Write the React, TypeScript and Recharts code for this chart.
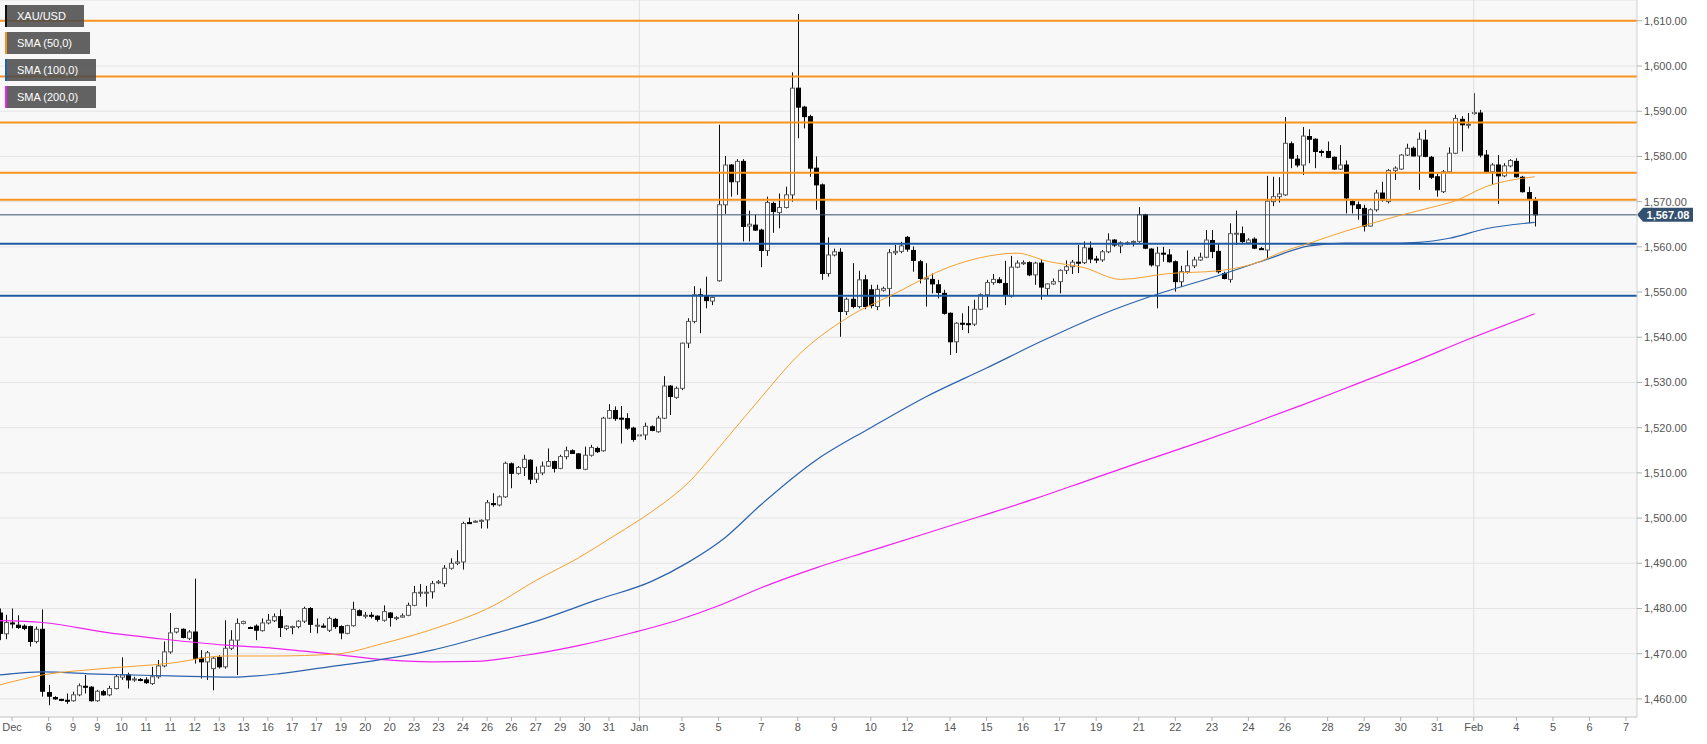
import React from 'react'
import { ComposedChart, Bar, Line, XAxis, YAxis, CartesianGrid, ReferenceLine } from 'recharts'

// 4h candles, open / high / low / close, first entry is index -1 (cut by left edge)
const FIRST_INDEX = -1
const candles: [number, number, number, number][] = [
  [1479.0, 1480.0, 1473.0, 1474.5],
  [1474.4, 1478.6, 1473.2, 1476.9], [1476.8, 1480.0, 1475.6, 1476.6], [1476.3, 1478.5, 1475.5, 1475.8],
  [1476.1, 1476.5, 1475.2, 1475.6], [1476.0, 1476.2, 1471.6, 1472.7], [1472.7, 1476.0, 1472.3, 1475.4],
  [1475.4, 1479.8, 1460.5, 1461.7], [1461.4, 1463.1, 1458.6, 1460.6], [1460.3, 1460.6, 1459.8, 1460.0],
  [1459.9, 1460.0, 1459.5, 1459.7], [1459.7, 1461.2, 1458.9, 1459.6], [1459.6, 1461.6, 1459.4, 1460.9],
  [1460.9, 1463.4, 1460.6, 1462.9], [1462.8, 1465.3, 1461.2, 1462.7], [1462.6, 1462.8, 1459.4, 1459.6],
  [1459.6, 1462.0, 1459.4, 1461.7], [1461.6, 1462.0, 1460.7, 1460.9], [1460.9, 1462.9, 1460.6, 1462.3],
  [1462.3, 1465.3, 1462.1, 1464.9], [1464.8, 1469.2, 1464.2, 1465.3], [1465.3, 1465.8, 1462.3, 1464.2],
  [1464.3, 1464.9, 1463.8, 1464.4], [1464.3, 1464.6, 1463.9, 1464.2], [1464.2, 1464.8, 1463.3, 1463.6],
  [1463.4, 1467.1, 1463.1, 1464.9], [1464.9, 1468.6, 1464.5, 1467.3], [1467.3, 1472.7, 1467.0, 1470.4],
  [1470.4, 1479.0, 1470.0, 1474.6], [1474.8, 1475.7, 1474.5, 1475.6], [1475.4, 1475.6, 1473.4, 1473.6],
  [1473.4, 1475.2, 1473.0, 1474.8], [1474.8, 1486.6, 1467.8, 1469.0], [1469.0, 1470.8, 1464.5, 1468.2],
  [1468.2, 1470.6, 1464.2, 1470.2], [1466.7, 1469.3, 1461.9, 1469.0], [1469.2, 1469.7, 1466.7, 1467.1],
  [1467.1, 1477.4, 1466.7, 1471.2], [1471.2, 1475.2, 1470.8, 1473.0], [1473.0, 1477.8, 1465.3, 1476.7],
  [1476.7, 1477.3, 1476.5, 1477.1], [1475.8, 1476.0, 1475.5, 1475.7], [1476.1, 1476.5, 1473.0, 1475.2],
  [1475.1, 1477.8, 1474.9, 1476.8], [1476.8, 1478.8, 1476.5, 1477.4], [1477.3, 1478.9, 1477.0, 1478.2],
  [1478.2, 1479.8, 1473.7, 1475.8], [1475.6, 1476.3, 1475.2, 1476.1], [1476.0, 1476.2, 1474.3, 1476.0],
  [1476.0, 1477.4, 1475.6, 1477.2], [1477.2, 1480.4, 1476.8, 1480.0], [1480.0, 1480.3, 1474.6, 1476.5],
  [1476.3, 1477.8, 1474.5, 1476.3], [1476.1, 1476.7, 1475.8, 1476.0], [1475.2, 1478.2, 1474.8, 1477.8],
  [1477.6, 1477.9, 1475.5, 1476.0], [1476.0, 1476.3, 1473.2, 1474.6], [1474.5, 1476.4, 1474.3, 1476.2],
  [1476.2, 1481.5, 1476.0, 1479.8], [1479.5, 1479.8, 1478.3, 1478.5], [1478.5, 1479.2, 1477.8, 1478.5],
  [1478.5, 1479.2, 1477.8, 1478.4], [1478.3, 1478.5, 1477.1, 1477.6], [1477.4, 1480.7, 1477.1, 1479.3],
  [1479.0, 1479.2, 1476.0, 1478.0], [1478.0, 1478.3, 1477.4, 1478.0], [1478.1, 1478.9, 1478.0, 1478.4],
  [1478.5, 1481.3, 1478.3, 1480.7], [1480.7, 1485.0, 1480.5, 1483.5], [1483.5, 1485.4, 1482.6, 1483.6],
  [1483.6, 1485.0, 1480.4, 1483.6], [1483.7, 1486.1, 1482.2, 1485.5], [1485.7, 1486.3, 1485.4, 1485.9],
  [1485.5, 1489.6, 1484.8, 1488.9], [1488.9, 1491.1, 1488.6, 1490.0], [1490.0, 1492.9, 1489.6, 1490.3],
  [1490.3, 1499.2, 1488.6, 1498.8], [1499.0, 1500.1, 1498.7, 1498.9], [1499.2, 1499.5, 1499.0, 1499.3],
  [1499.4, 1499.7, 1497.7, 1499.5], [1499.6, 1504.0, 1497.7, 1503.4], [1503.2, 1505.5, 1502.5, 1503.1],
  [1502.9, 1505.0, 1502.6, 1504.7], [1504.7, 1512.5, 1504.5, 1512.1], [1512.0, 1512.3, 1506.6, 1509.9],
  [1509.9, 1511.5, 1509.6, 1511.2], [1511.2, 1514.0, 1509.3, 1513.0], [1512.8, 1513.0, 1507.5, 1508.6],
  [1508.6, 1511.4, 1507.8, 1509.9], [1510.0, 1512.5, 1509.5, 1511.5], [1511.5, 1515.4, 1511.3, 1512.5],
  [1512.5, 1512.7, 1510.1, 1511.0], [1511.0, 1514.0, 1510.8, 1513.6], [1513.6, 1515.8, 1513.0, 1514.9],
  [1514.9, 1515.2, 1514.2, 1514.3], [1514.2, 1514.4, 1510.8, 1511.0], [1510.8, 1515.8, 1510.6, 1513.9],
  [1513.9, 1516.2, 1513.6, 1515.6], [1515.4, 1515.8, 1514.4, 1514.7], [1514.9, 1522.4, 1514.7, 1522.1],
  [1522.1, 1525.2, 1521.9, 1523.8], [1523.8, 1524.7, 1521.5, 1522.0], [1522.1, 1524.8, 1516.5, 1522.0],
  [1522.0, 1523.2, 1519.5, 1519.9], [1519.9, 1520.2, 1516.9, 1517.4], [1518.3, 1518.7, 1518.0, 1518.4],
  [1518.4, 1521.1, 1517.3, 1520.3], [1520.2, 1520.5, 1519.2, 1519.4], [1519.1, 1522.6, 1518.9, 1522.1],
  [1522.1, 1531.4, 1521.9, 1529.2], [1529.2, 1529.4, 1522.8, 1526.9], [1526.7, 1529.1, 1526.4, 1528.7],
  [1528.7, 1538.8, 1528.3, 1538.7], [1538.7, 1544.2, 1537.6, 1543.5], [1543.5, 1551.3, 1543.1, 1549.4],
  [1549.4, 1550.8, 1540.9, 1549.3], [1549.0, 1553.4, 1546.4, 1548.1], [1548.0, 1549.0, 1547.1, 1548.8],
  [1552.5, 1587.0, 1552.3, 1569.3], [1569.3, 1580.1, 1567.3, 1578.1], [1578.1, 1578.3, 1571.1, 1574.4],
  [1574.4, 1579.4, 1571.5, 1578.9], [1578.9, 1579.4, 1561.2, 1564.5], [1564.6, 1568.0, 1561.2, 1565.0],
  [1564.8, 1567.1, 1563.5, 1563.7], [1563.7, 1564.0, 1555.5, 1559.2], [1559.2, 1571.1, 1558.0, 1569.8],
  [1569.6, 1570.0, 1563.1, 1567.8], [1567.6, 1571.8, 1564.1, 1568.7], [1568.7, 1573.3, 1568.5, 1571.5],
  [1571.5, 1598.6, 1570.0, 1595.1], [1595.1, 1611.5, 1584.0, 1590.9], [1590.9, 1591.2, 1586.2, 1588.8],
  [1588.8, 1589.2, 1575.5, 1577.4], [1577.4, 1580.0, 1568.2, 1573.7], [1573.7, 1574.0, 1552.7, 1554.1],
  [1554.1, 1562.1, 1553.4, 1558.2], [1558.2, 1559.6, 1557.9, 1558.9], [1558.8, 1559.7, 1540.1, 1545.7],
  [1545.7, 1548.8, 1544.9, 1548.4], [1548.4, 1556.4, 1546.4, 1546.8], [1546.8, 1554.7, 1546.4, 1552.7],
  [1552.7, 1553.8, 1546.2, 1546.8], [1550.5, 1551.6, 1546.4, 1547.0], [1546.8, 1551.6, 1546.0, 1550.6],
  [1550.4, 1551.2, 1550.1, 1550.8], [1550.8, 1559.5, 1546.8, 1558.7], [1558.7, 1560.4, 1558.2, 1559.0],
  [1559.0, 1561.1, 1558.6, 1560.2], [1562.1, 1562.4, 1558.9, 1559.5], [1559.2, 1560.1, 1554.5, 1557.0],
  [1556.7, 1557.1, 1551.9, 1553.0], [1553.0, 1556.4, 1546.8, 1553.1], [1552.8, 1554.1, 1549.7, 1551.8],
  [1551.6, 1552.7, 1548.6, 1549.9], [1549.7, 1550.5, 1545.0, 1545.3], [1545.3, 1545.5, 1536.1, 1539.0],
  [1539.0, 1543.3, 1536.5, 1543.1], [1543.1, 1545.3, 1541.6, 1543.0], [1543.0, 1546.9, 1540.9, 1542.9],
  [1542.9, 1548.3, 1542.5, 1546.2], [1546.2, 1549.7, 1546.0, 1549.4], [1549.4, 1552.7, 1546.6, 1552.1],
  [1552.1, 1554.0, 1551.6, 1552.8], [1552.7, 1553.3, 1551.9, 1552.1], [1551.9, 1556.9, 1547.1, 1549.4],
  [1549.1, 1558.0, 1548.8, 1555.5], [1555.5, 1557.0, 1555.3, 1556.4], [1556.5, 1557.0, 1556.0, 1556.5],
  [1556.5, 1556.8, 1553.5, 1553.8], [1553.8, 1556.7, 1551.6, 1556.4], [1556.4, 1557.2, 1548.3, 1551.1],
  [1550.8, 1551.9, 1549.3, 1551.8], [1551.8, 1553.0, 1551.6, 1552.3], [1552.3, 1555.0, 1549.7, 1554.8],
  [1554.8, 1557.0, 1554.0, 1555.6], [1555.6, 1557.1, 1554.0, 1556.6], [1556.6, 1560.4, 1554.2, 1556.5],
  [1556.5, 1561.2, 1556.2, 1559.8], [1559.7, 1561.2, 1556.4, 1557.3], [1557.3, 1558.0, 1556.4, 1557.2],
  [1557.1, 1559.3, 1556.7, 1558.9], [1558.9, 1563.0, 1558.6, 1561.5], [1561.5, 1561.7, 1560.0, 1560.4],
  [1560.2, 1561.2, 1558.6, 1560.9], [1560.9, 1561.2, 1560.4, 1560.9], [1561.0, 1561.4, 1560.1, 1561.2],
  [1561.2, 1568.8, 1560.9, 1567.1], [1567.1, 1567.3, 1559.5, 1559.7], [1559.5, 1559.7, 1555.6, 1556.0],
  [1555.8, 1560.0, 1546.4, 1558.6], [1558.6, 1560.0, 1556.7, 1558.5], [1558.2, 1559.5, 1556.5, 1556.7],
  [1556.7, 1557.0, 1550.1, 1552.3], [1552.3, 1555.8, 1551.1, 1554.5], [1554.5, 1559.2, 1554.1, 1555.8],
  [1555.8, 1557.8, 1555.3, 1557.1], [1557.1, 1558.7, 1556.9, 1557.7], [1557.7, 1563.7, 1557.5, 1561.5],
  [1561.4, 1563.7, 1557.5, 1559.0], [1559.0, 1560.8, 1554.1, 1554.5], [1554.1, 1554.5, 1552.8, 1553.0],
  [1552.8, 1565.2, 1552.1, 1562.9], [1562.9, 1568.0, 1560.4, 1563.0], [1562.9, 1564.5, 1560.8, 1561.2],
  [1560.9, 1561.9, 1560.8, 1561.5], [1561.7, 1562.1, 1559.5, 1559.7], [1559.6, 1560.0, 1559.3, 1559.5],
  [1559.3, 1575.7, 1557.5, 1570.1], [1570.0, 1575.5, 1569.0, 1571.1], [1571.1, 1575.4, 1569.8, 1571.7],
  [1571.5, 1588.7, 1571.3, 1582.9], [1582.8, 1583.3, 1577.4, 1579.6], [1579.4, 1580.3, 1577.6, 1578.1],
  [1578.1, 1586.5, 1575.9, 1584.5], [1584.4, 1586.0, 1578.5, 1583.8], [1583.8, 1584.0, 1577.4, 1581.1],
  [1581.1, 1581.5, 1580.0, 1581.0], [1581.1, 1583.3, 1579.6, 1579.8], [1579.8, 1580.0, 1577.0, 1577.2],
  [1577.2, 1582.5, 1577.0, 1578.1], [1578.1, 1579.1, 1567.4, 1570.8], [1570.0, 1570.3, 1567.4, 1569.3],
  [1569.3, 1570.0, 1566.0, 1568.5], [1568.5, 1569.3, 1563.4, 1564.6], [1564.6, 1568.5, 1564.5, 1568.2],
  [1568.2, 1572.6, 1567.8, 1571.9], [1571.9, 1574.4, 1570.0, 1570.4], [1570.0, 1577.2, 1569.6, 1576.9],
  [1576.9, 1577.8, 1574.8, 1577.4], [1577.2, 1580.5, 1577.0, 1580.3], [1580.3, 1582.8, 1580.1, 1581.8],
  [1581.8, 1582.2, 1580.0, 1580.1], [1580.1, 1585.3, 1572.6, 1583.8], [1583.6, 1585.9, 1579.8, 1580.0],
  [1579.8, 1580.1, 1575.0, 1575.4], [1575.5, 1576.2, 1571.1, 1572.6], [1572.2, 1577.0, 1571.9, 1576.6],
  [1576.6, 1582.0, 1576.4, 1580.7], [1580.7, 1589.2, 1580.5, 1588.4], [1588.2, 1588.9, 1581.1, 1587.0],
  [1587.0, 1589.6, 1586.2, 1587.1], [1589.6, 1594.0, 1589.2, 1589.7], [1589.6, 1590.3, 1579.8, 1580.3],
  [1580.3, 1581.4, 1576.3, 1576.6], [1576.6, 1578.5, 1573.7, 1578.1], [1578.1, 1580.3, 1569.5, 1575.7],
  [1575.7, 1578.5, 1575.4, 1577.9], [1577.9, 1579.4, 1577.6, 1579.1], [1578.9, 1579.6, 1575.3, 1575.5],
  [1575.4, 1575.7, 1572.0, 1572.2], [1572.0, 1573.3, 1565.2, 1570.5], [1570.2, 1571.0, 1564.5, 1567.08],
]

// moving averages: [candle index, value]
const sma50: [number, number][] = [
  [-1, 1463.1], [6, 1465.3], [15, 1466.6], [27, 1467.9], [36, 1469.5], [44, 1469.5], [54, 1469.9],
  [62, 1472.3], [70, 1475.4], [80, 1480.6], [87, 1486.2], [94, 1491.2], [100, 1496.2], [106, 1501.4],
  [112, 1507.8], [118, 1517.1], [124, 1526.7], [130, 1535.9], [138, 1544.2], [146, 1549.7],
  [155, 1555.6], [160, 1557.6], [166, 1558.6], [171, 1556.8], [177, 1555.4], [183, 1552.8],
  [191, 1554.1], [199, 1554.7], [206, 1556.8], [209, 1558.6], [214, 1560.8], [220, 1563.5],
  [224, 1565.1], [229, 1567.0], [234, 1568.7], [238, 1570.2], [243, 1573.3], [251, 1575.5],
]
const sma100: [number, number][] = [
  [-1, 1465.3], [6, 1466.0], [15, 1465.5], [27, 1465.1], [37, 1464.8], [45, 1465.6], [53, 1467.1],
  [61, 1468.6], [70, 1470.8], [80, 1474.4], [88, 1477.6], [97, 1481.9], [106, 1486.0], [112, 1490.2],
  [118, 1495.6], [124, 1503.0], [133, 1512.8], [142, 1520.0], [151, 1526.8], [161, 1533.2],
  [170, 1539.1], [180, 1545.1], [189, 1549.5], [199, 1553.6], [207, 1557.2], [214, 1560.2],
  [220, 1560.8], [226, 1560.8], [232, 1561.0], [237, 1561.9], [243, 1564.0], [251, 1565.4],
]
const sma200: [number, number][] = [
  [-1, 1477.3], [6, 1476.9], [17, 1474.6], [26, 1473.2], [36, 1471.9], [44, 1471.2], [53, 1470.0],
  [61, 1468.8], [70, 1468.2], [77, 1468.3], [85, 1469.6], [94, 1471.8], [103, 1474.7], [110, 1477.3],
  [117, 1480.6], [124, 1484.6], [133, 1489.0], [142, 1492.8], [151, 1496.6], [160, 1500.4],
  [169, 1504.3], [178, 1508.5], [187, 1512.7], [196, 1516.8], [204, 1520.6], [213, 1525.1],
  [222, 1529.8], [231, 1534.5], [240, 1539.5], [251, 1545.2],
]

const resistanceLevels = [1610, 1597.7, 1587.5, 1576.4, 1570.4]
const supportLevels = [1560.7, 1549.2]
const lastPrice = 1567.08

const priceTicks = [1460, 1470, 1480, 1490, 1500, 1510, 1520, 1530, 1540, 1550, 1560, 1570, 1580, 1590, 1600, 1610]
const dateTickIndex = [
  1, 7, 11, 15, 19, 23, 27, 31, 35, 39, 43, 47, 51, 55, 59, 63, 67, 71, 75, 79, 83, 87, 91, 95, 99,
  104, 111, 117, 124, 130, 136, 142, 148, 155, 161, 167, 173, 179, 186, 192, 198, 204, 210, 217, 223, 229, 235,
  241, 248, 254, 260, 266,
]
const dateTickLabels = [
  'Dec', '6', '9', '9', '10', '11', '11', '12', '13', '13', '16', '17', '17', '19', '20', '20', '23', '23', '24',
  '26', '26', '27', '29', '30', '31', 'Jan', '3', '5', '7', '8', '9', '10', '12', '14', '15', '16', '17', '19',
  '21', '22', '23', '24', '26', '28', '29', '30', '31', 'Feb', '4', '5', '6', '7',
]
const monthStarts = [104, 241]

const legendItems = [
  { name: 'XAU/USD', color: '#111111' },
  { name: 'SMA (50,0)', color: '#f7931e' },
  { name: 'SMA (100,0)', color: '#1f5fae' },
  { name: 'SMA (200,0)', color: '#f020f0' },
]

const data = candles.map(([o, h, l, c], k) => ({ i: k + FIRST_INDEX, o, h, l, c, range: [l, h] }))
const toLine = (arr: [number, number][]) => arr.map(([i, v]) => ({ i, v }))

function formatPrice(v: number) {
  return v.toLocaleString('en-US', { minimumFractionDigits: 2, maximumFractionDigits: 2 })
}

function Candle(props: any) {
  const { x, width, payload } = props
  let { y, height } = props
  if (height < 0) {
    y = y + height
    height = -height
  }
  const { o, h, l, c } = payload
  const k = h - l > 0 ? height / (h - l) : 0
  const py = (p: number) => y + (h - p) * k
  const cx = Math.round(x + width / 2) + 0.5
  const up = c >= o
  const top = py(Math.max(o, c))
  const bottom = py(Math.min(o, c))
  const bodyH = Math.max(bottom - top, 1)
  return (
    <g>
      <line x1={cx} x2={cx} y1={y} y2={y + height} stroke="#111" strokeWidth={1} />
      <rect
        x={cx - 2}
        y={top}
        width={4}
        height={bodyH}
        fill={up ? '#ffffff' : '#000000'}
        stroke={up ? '#5c5c5c' : '#000000'}
        strokeWidth={1}
      />
    </g>
  )
}

function PriceTag(props: any) {
  const { viewBox } = props
  const x = viewBox.x + viewBox.width
  const y = viewBox.y
  return (
    <g>
      <path
        d={`M${x} ${y} L${x + 6} ${y - 7} L${x + 56} ${y - 7} L${x + 56} ${y + 7} L${x + 6} ${y + 7} Z`}
        fill="#34506f"
      />
      <text x={x + 31} y={y + 4} textAnchor="middle" fill="#ffffff" fontSize={11} fontWeight="bold">
        {formatPrice(lastPrice)}
      </text>
    </g>
  )
}

export default function App() {
  return (
    <div style={{
      position: 'absolute',
      left: 0,
      top: 0,
      width: 1707,
      height: 744,
      background: '#ffffff',
      fontFamily: 'Arial, "Liberation Sans", sans-serif',
    }}>
      <ComposedChart width={1707} height={744} data={data} margin={{ top: 0, right: 0, bottom: 0, left: 0 }}>
        <CartesianGrid vertical={false} stroke="#e4e4e4" fill="#f8f8f8" />
        <XAxis
          dataKey="i"
          type="number"
          domain={[-0.985, 267.8]}
          allowDataOverflow
          ticks={dateTickIndex}
          interval={0}
          tickFormatter={(v: number) => dateTickLabels[dateTickIndex.indexOf(v)] ?? ''}
          height={27}
          tickSize={4}
          axisLine={{ stroke: '#cfcfcf' }}
          tickLine={{ stroke: '#b0b0b0' }}
          tick={{ fontSize: 11, fill: '#555555' }}
        />
        <YAxis
          orientation="right"
          type="number"
          domain={[1456, 1614.6]}
          allowDataOverflow
          ticks={priceTicks}
          interval={0}
          width={70}
          tickSize={5}
          tickFormatter={formatPrice}
          axisLine={{ stroke: '#cfcfcf' }}
          tickLine={{ stroke: '#b0b0b0' }}
          tick={{ fontSize: 11, fill: '#555555' }}
        />
        {monthStarts.map((m) => (
          <ReferenceLine key={`m${m}`} x={m} stroke="#e0e0e0" />
        ))}
        {resistanceLevels.map((p) => (
          <ReferenceLine key={`r${p}`} y={p} stroke="#f7931e" strokeWidth={2} />
        ))}
        {supportLevels.map((p) => (
          <ReferenceLine key={`s${p}`} y={p} stroke="#1c5aa3" strokeWidth={2} />
        ))}
        <ReferenceLine y={lastPrice} stroke="#34506f" strokeWidth={1} label={<PriceTag />} />
        <Line data={toLine(sma200)} dataKey="v" type="monotone" stroke="#f020f0" strokeWidth={1.2} dot={false} isAnimationActive={false} />
        <Line data={toLine(sma100)} dataKey="v" type="monotone" stroke="#2a62ad" strokeWidth={1.2} dot={false} isAnimationActive={false} />
        <Line data={toLine(sma50)} dataKey="v" type="monotone" stroke="#f5a02c" strokeWidth={1} dot={false} isAnimationActive={false} />
        <Bar dataKey="range" barSize={4} shape={<Candle />} isAnimationActive={false} />
      </ComposedChart>

      {legendItems.map((item, n) => (
        <div key={item.name} style={{
          position: 'absolute',
          left: 5,
          top: 5 + n * 27,
          height: 22,
          padding: '0 18px 0 10px',
          background: 'rgba(72, 72, 72, 0.85)',
          borderLeft: `2px solid ${item.color}`,
          color: '#ffffff',
          fontSize: 11,
          lineHeight: '22px',
          boxSizing: 'border-box',
        }}>
          {item.name}
        </div>
      ))}
    </div>
  )
}
